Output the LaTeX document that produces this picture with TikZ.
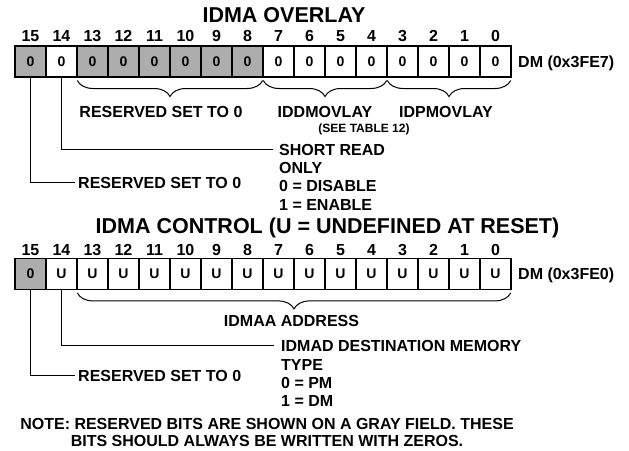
\documentclass[tikz,border=0pt]{standalone}
\usepackage{fontspec}
\setmainfont{Liberation Sans}
\usetikzlibrary{decorations.pathreplacing,positioning}
\definecolor{resgray}{gray}{0.68}

\tikzset{
  bitcell/.style={draw,line width=1.4pt,minimum width=31pt,minimum height=31pt,
    inner sep=0pt,font=\fontsize{14}{14}\selectfont\bfseries},
  bitnum/.style={anchor=base,inner sep=0pt,font=\fontsize{16}{16}\selectfont\bfseries},
  regtitle/.style={anchor=base,inner sep=0pt,font=\fontsize{21.5}{21.5}\selectfont\bfseries},
  lbl/.style={inner sep=0pt,font=\fontsize{16}{17}\selectfont\bfseries},
  smalllbl/.style={inner sep=0pt,anchor=base,font=\fontsize{12}{12}\selectfont\bfseries},
  brc/.style={decorate,decoration={brace,mirror,amplitude=16pt,raise=3pt},line width=1pt},
  leader/.style={line width=1pt}
}

\begin{document}
\begin{tikzpicture}[x=1pt,y=-1pt]
  \useasboundingbox (0,0) rectangle (629,450);

  % Register IDMA OVERLAY
  \node[regtitle] (ttlov) at (284,22.5) {IDMA OVERLAY};
  \foreach \b in {15,13,12,11,10,9,8} {
    \node[bitcell,fill=resgray] (ov\b) at ({495.5-31*\b},61.3) {0};
  }
  \foreach \b in {14,7,6,...,0} {
    \node[bitcell] (ov\b) at ({495.5-31*\b},61.3) {0};
  }
  \foreach \b in {0,...,15} {
    \node[bitnum] (ovn\b) at ({495.5-31*\b},41.7) {\b};
  }
  \node[lbl,anchor=base west] (ovaddr) at (518,67) {DM (0x3FE7)};

  % Klammern und Felder
  \draw[brc] ([xshift=1pt]ov13.south west) -- ([xshift=-1pt]ov8.south east);
  \draw[brc] ([xshift=1pt]ov7.south west) -- ([xshift=-1pt]ov4.south east);
  \draw[brc] ([xshift=1pt]ov3.south west) -- ([xshift=-1pt]ov0.south east);
  \node[lbl,anchor=base] (ovres) at (161,117) {RESERVED SET TO 0};
  \node[lbl,anchor=base] (iddm) at (325,117) {IDDMOVLAY};
  \node[smalllbl] (seetab) at (364,132) {(SEE TABLE 12)};
  \node[lbl,anchor=base] (idpm) at (446,117) {IDPMOVLAY};

  % Bit 14 und Bit 15
  \node[lbl,anchor=base west] (srd1) at (279,155.5) {SHORT READ};
  \node[lbl,anchor=base west] (srd2) at (279,173.5) {ONLY};
  \node[lbl,anchor=base west] (srd3) at (279,191.8) {0 = DISABLE};
  \node[lbl,anchor=base west] (srd4) at (279,210) {1 = ENABLE};
  \draw[leader,shorten >=6pt] (ov14.south) |- (srd1.west);
  \node[lbl,anchor=base west] (ovres15) at (78,188) {RESERVED SET TO 0};
  \draw[leader,shorten >=3pt] (ov15.south) |- (ovres15.west);

  % Register IDMA CONTROL
  \node[regtitle] (ttlct) at (327.5,233.3) {IDMA CONTROL (U = UNDEFINED AT RESET)};
  \node[bitcell,fill=resgray] (ct15) at ({495.5-31*15},273.7) {0};
  \foreach \b in {14,13,...,0} {
    \node[bitcell] (ct\b) at ({495.5-31*\b},273.7) {U};
  }
  \foreach \b in {0,...,15} {
    \node[bitnum] (ctn\b) at ({495.5-31*\b},255) {\b};
  }
  \node[lbl,anchor=base west] (ctaddr) at (518,279.5) {DM (0x3FE0)};

  % Adresse
  \draw[brc] ([xshift=1pt]ct13.south west) -- ([xshift=-1pt]ct0.south east);
  \node[lbl,anchor=base] (idmaa) at (291.5,326.7) {IDMAA ADDRESS};

  % Bit 14 und Bit 15
  \node[lbl,anchor=base west] (dst1) at (281,351.5) {IDMAD DESTINATION MEMORY};
  \node[lbl,anchor=base west] (dst2) at (281,370) {TYPE};
  \node[lbl,anchor=base west] (dst3) at (281,388.3) {0 = PM};
  \node[lbl,anchor=base west] (dst4) at (281,406.7) {1 = DM};
  \draw[leader,shorten >=7pt] (ct14.south) |- (dst1.west);
  \node[lbl,anchor=base west] (ctres15) at (78,381.5) {RESERVED SET TO 0};
  \draw[leader,shorten >=3pt] (ct15.south) |- (ctres15.west);

  % Hinweis
  \node[lbl,align=center,anchor=north] (note) at (267,418.3)
    {NOTE: RESERVED BITS ARE SHOWN ON A GRAY FIELD. THESE\\
     BITS SHOULD ALWAYS BE WRITTEN WITH ZEROS.};
\end{tikzpicture}
\end{document}
